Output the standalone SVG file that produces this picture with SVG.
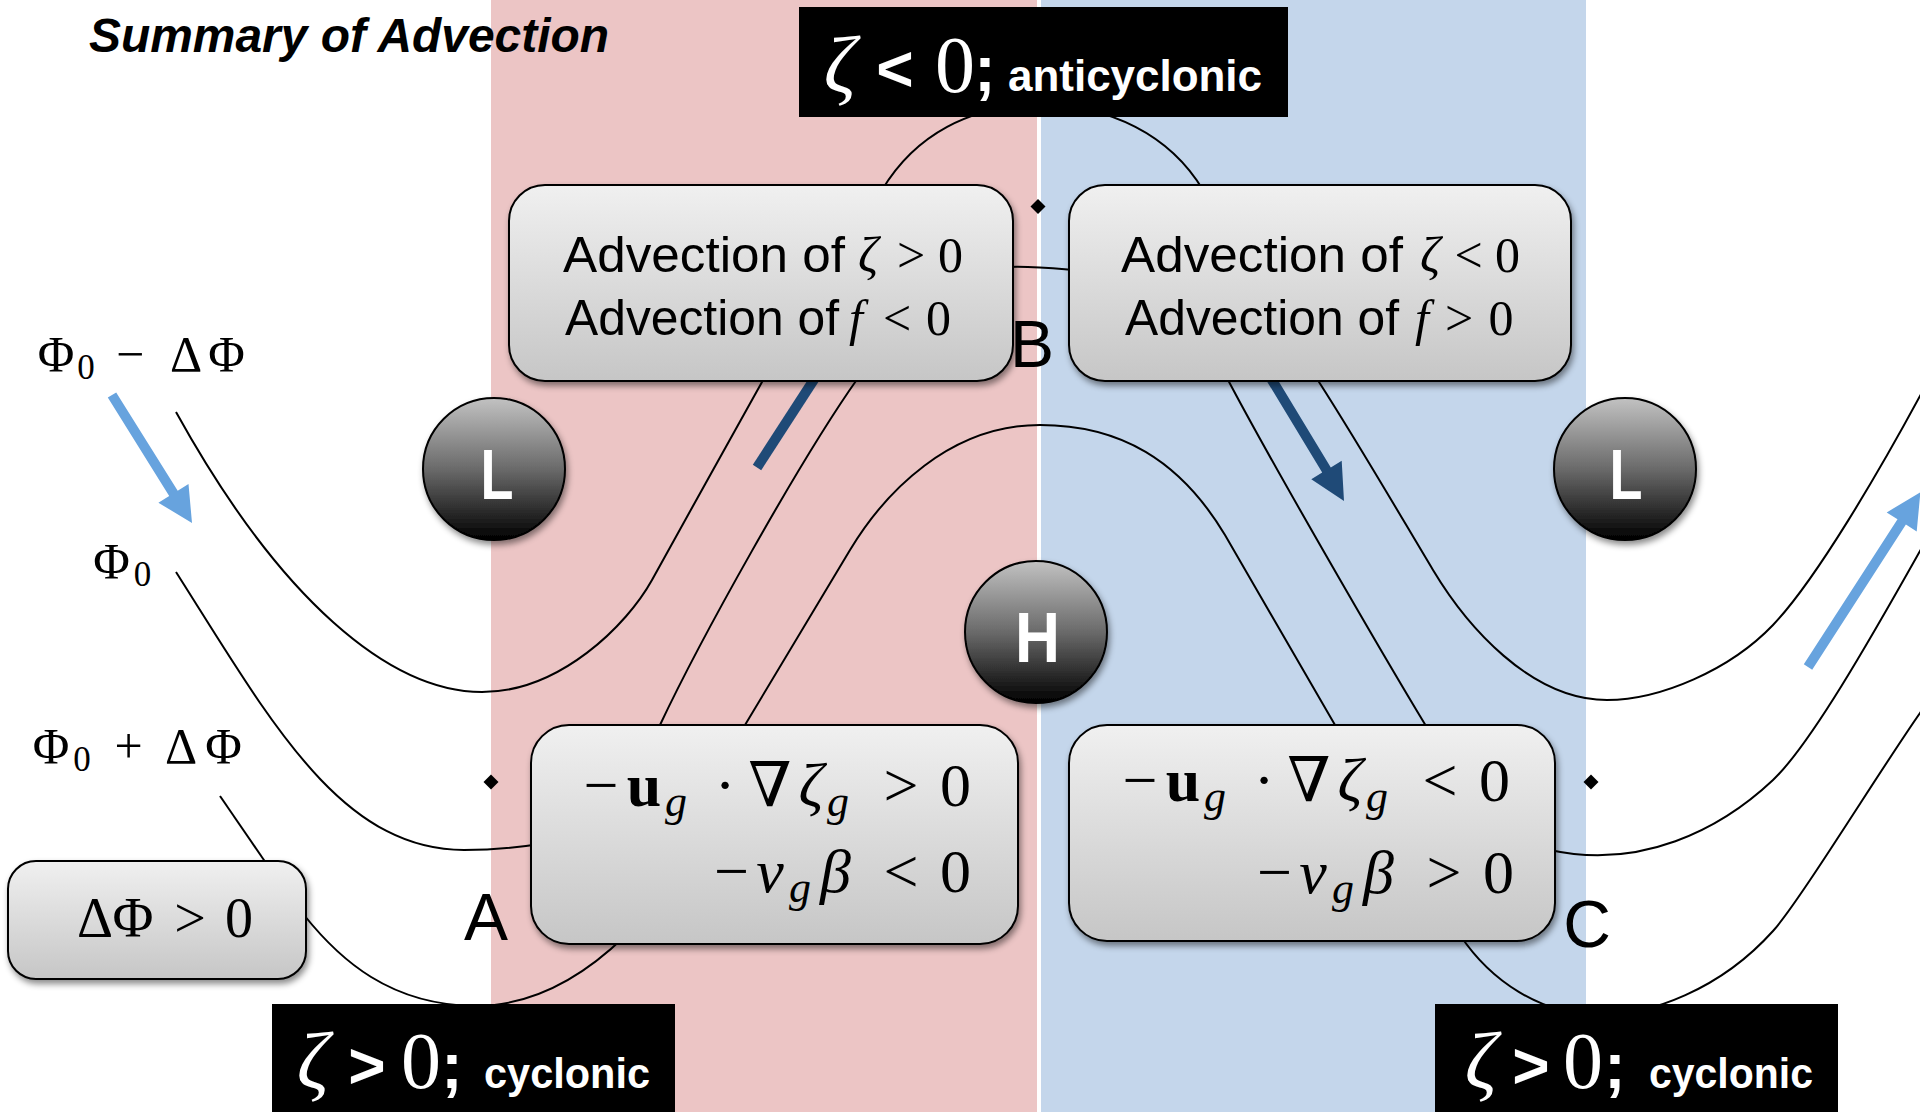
<svg xmlns="http://www.w3.org/2000/svg" width="1920" height="1112" viewBox="0 0 1920 1112">
<defs>
  <linearGradient id="boxGrad" x1="0" y1="0" x2="0" y2="1">
    <stop offset="0" stop-color="#f0f0f0"/>
    <stop offset="1" stop-color="#c6c6c6"/>
  </linearGradient>
  <linearGradient id="ballGrad" x1="0" y1="0" x2="0" y2="1">
    <stop offset="0" stop-color="#c2c2c2"/>
    <stop offset="0.5" stop-color="#6a6a6a"/>
    <stop offset="1" stop-color="#000000"/>
  </linearGradient>
  <filter id="shadow" x="-10%" y="-10%" width="130%" height="140%">
    <feDropShadow dx="2" dy="4" stdDeviation="3" flood-color="#000" flood-opacity="0.45"/>
  </filter>
</defs>
<style>
  .box{fill:url(#boxGrad);stroke:#000;stroke-width:2;filter:url(#shadow)}
  .ball{fill:url(#ballGrad);stroke:#000;stroke-width:2;filter:url(#shadow)}
  .contour{fill:none;stroke:#000;stroke-width:2}
  .sans{font-family:"Liberation Sans",Arial,sans-serif}
  .bsans{font-family:"Liberation Sans",Arial,sans-serif;font-weight:bold}
  .m{font-family:"Liberation Serif","DejaVu Serif",serif;text-anchor:middle}
  .i{font-style:italic}
  .b{font-weight:bold}
  .c{text-anchor:middle}
  .wt{fill:#fff}
  .dot{fill:#000}
  .lt{fill:#67a3de}
  .dk{fill:#1f4a77}
</style>

<rect x="491" y="0" width="546" height="1112" fill="#ecc5c5"/>
<rect x="1041" y="0" width="545" height="1112" fill="#c4d6eb"/>

<text class="bsans i" x="89" y="52" font-size="48" font-style="italic" textLength="520" lengthAdjust="spacingAndGlyphs">Summary of Advection</text>

<g id="connectors">
  <path class="contour" d="M176,412 C280,600 390,692 482,692 C560,692 627,625 652,580 C677,535 741,419 762,382 L770,368"/>
  <path class="contour" d="M882,190 C915,135 970,105 1040,105 C1110,105 1170,135 1203,190"/>
  <path class="contour" d="M1315,375 L1319,382 C1360,446 1400,515 1433,570 C1466,625 1530,700 1607,700 C1660,700 1730,670 1773,625 C1816,580 1880,470 1920,396 L1930,378"/>
  <path class="contour" d="M176,572 C270,720 340,850 464,850 C495,850 515,848 540,844"/>
  <path class="contour" d="M655,736 L660,725 C700,640 800,460 858,378"/>
  <path class="contour" d="M1008,267 C1030,266 1050,268 1073,270"/>
  <path class="contour" d="M1227,378 C1270,460 1380,650 1426,726 L1430,734"/>
  <path class="contour" d="M1550,850 C1640,870 1720,830 1773,780 C1810,745 1870,640 1920,551 L1930,534"/>
  <path class="contour" d="M220,796 L268,866"/>
  <path class="contour" d="M300,910 L304,915 C340,960 390,1005 475,1006 C540,1006 590,970 625,936"/>
  <path class="contour" d="M740,733 L745,725 L850,550 C885,492 950,425 1040,425 C1120,425 1180,460 1225,535 L1335,725 L1340,733"/>
  <path class="contour" d="M1455,928 L1460,935 C1490,980 1540,1015 1600,1015 C1650,1015 1720,990 1773,931 C1800,901 1880,770 1920,713 L1930,699"/>
  <polygon class="lt" points="116.2,392.4 177.7,490.7 188.5,483.9 192,523 158.4,502.7 169.2,496 107.8,397.6"/>
  <polygon class="lt" points="1803.8,664.3 1897.5,519.2 1886.7,512.4 1920.4,492.3 1916.7,531.4 1905.9,524.6 1812.2,669.7"/>
  <line x1="757" y1="467.5" x2="826" y2="361" stroke="#1f4a77" stroke-width="10"/>
  <polygon class="dk" points="1259,368.2 1322.2,472.6 1311.3,479.2 1344,501 1341.7,460.8 1330.8,467.4 1267.6,363"/>
</g>

<g id="box-adv-left">
  <rect class="box" x="509" y="185" width="504" height="196" rx="36"/>
  <text class="sans" x="563" y="272" font-size="50" textLength="282" lengthAdjust="spacingAndGlyphs">Advection of</text>
  <text class="m i" x="868" y="272" font-size="50">ζ</text>
  <text class="m" x="911" y="272" font-size="50">&gt;</text>
  <text class="m" x="950.5" y="272" font-size="50">0</text>
  <text class="sans" x="565" y="335" font-size="50" textLength="274" lengthAdjust="spacingAndGlyphs">Advection of</text>
  <text class="m i" x="856" y="335" font-size="50">f</text>
  <text class="m" x="897" y="335" font-size="50">&lt;</text>
  <text class="m" x="938.5" y="335" font-size="50">0</text>
</g>

<g id="box-adv-right">
  <rect class="box" x="1069" y="185" width="502" height="196" rx="36"/>
  <text class="sans" x="1121" y="272" font-size="50" textLength="282" lengthAdjust="spacingAndGlyphs">Advection of</text>
  <text class="m i" x="1430" y="272" font-size="50">ζ</text>
  <text class="m" x="1468.5" y="272" font-size="50">&lt;</text>
  <text class="m" x="1507.5" y="272" font-size="50">0</text>
  <text class="sans" x="1125" y="335" font-size="50" textLength="274" lengthAdjust="spacingAndGlyphs">Advection of</text>
  <text class="m i" x="1422" y="335" font-size="50">f</text>
  <text class="m" x="1459" y="335" font-size="50">&gt;</text>
  <text class="m" x="1501" y="335" font-size="50">0</text>
</g>

<g id="box-math-left">
  <rect class="box" x="531" y="725" width="487" height="219" rx="38"/>
  <text class="m" x="601" y="806" font-size="62">−</text>
  <text class="m b" x="644" y="806" font-size="62">u</text>
  <text class="m i" x="676" y="816" font-size="44">g</text>
  <text class="m" x="725" y="806" font-size="62">·</text>
  <text class="m" x="770" y="806" font-size="62">∇</text>
  <text class="m i" x="811" y="806" font-size="62">ζ</text>
  <text class="m i" x="838" y="816" font-size="44">g</text>
  <text class="m" x="901" y="806" font-size="62">&gt;</text>
  <text class="m" x="955.5" y="806" font-size="62">0</text>
  <text class="m" x="731.5" y="892" font-size="62">−</text>
  <text class="m i" x="770" y="892" font-size="62">v</text>
  <text class="m i" x="800" y="902" font-size="44">g</text>
  <text class="m i" x="835.5" y="892" font-size="62">β</text>
  <text class="m" x="901" y="892" font-size="62">&lt;</text>
  <text class="m" x="955.5" y="892" font-size="62">0</text>
</g>

<g id="box-math-right">
  <rect class="box" x="1069" y="725" width="486" height="216" rx="38"/>
  <text class="m" x="1140" y="801" font-size="62">−</text>
  <text class="m b" x="1183" y="801" font-size="62">u</text>
  <text class="m i" x="1215" y="811" font-size="44">g</text>
  <text class="m" x="1264" y="801" font-size="62">·</text>
  <text class="m" x="1309" y="801" font-size="62">∇</text>
  <text class="m i" x="1350" y="801" font-size="62">ζ</text>
  <text class="m i" x="1377" y="811" font-size="44">g</text>
  <text class="m" x="1440" y="801" font-size="62">&lt;</text>
  <text class="m" x="1494.5" y="801" font-size="62">0</text>
  <text class="m" x="1274.5" y="893" font-size="62">−</text>
  <text class="m i" x="1313" y="893" font-size="62">v</text>
  <text class="m i" x="1343" y="903" font-size="44">g</text>
  <text class="m i" x="1378.5" y="893" font-size="62">β</text>
  <text class="m" x="1444" y="893" font-size="62">&gt;</text>
  <text class="m" x="1498.5" y="893" font-size="62">0</text>
</g>

<g id="box-dphi">
  <rect class="box" x="8" y="861" width="298" height="118" rx="28"/>
  <text class="m" x="95" y="937" font-size="56">Δ</text>
  <text class="m" x="133" y="937" font-size="56">Φ</text>
  <text class="m" x="190" y="937" font-size="56">&gt;</text>
  <text class="m" x="239" y="937" font-size="56">0</text>
</g>

<g id="low-left">
  <circle class="ball" cx="494" cy="469" r="71"/>
  <text class="bsans c wt" x="497" y="499" font-size="70" textLength="33" lengthAdjust="spacingAndGlyphs">L</text>
</g>
<g id="low-right">
  <circle class="ball" cx="1625" cy="469" r="71"/>
  <text class="bsans c wt" x="1626" y="499" font-size="70" textLength="33" lengthAdjust="spacingAndGlyphs">L</text>
</g>
<g id="high">
  <circle class="ball" cx="1036" cy="632" r="71"/>
  <text class="bsans c wt" x="1037.5" y="662" font-size="70" textLength="45" lengthAdjust="spacingAndGlyphs">H</text>
</g>

<g id="dots">
  <polygon class="dot" points="1038,199 1045.5,206.5 1038,214 1030.5,206.5"/>
  <polygon class="dot" points="491,774.5 498.5,782 491,789.5 483.5,782"/>
  <polygon class="dot" points="1591,774.5 1598.5,782 1591,789.5 1583.5,782"/>
</g>

<g id="point-labels">
  <text class="sans c" x="486" y="940" font-size="66">A</text>
  <text class="sans c" x="1032" y="367" font-size="66">B</text>
  <text class="sans c" x="1587" y="947" font-size="66">C</text>
</g>

<g id="phi-labels">
  <text class="m" x="56" y="371" font-size="50">Φ</text>
  <text class="m" x="86" y="379" font-size="35">0</text>
  <text class="m" x="130" y="371" font-size="50">−</text>
  <text class="m" x="186" y="371" font-size="50">Δ</text>
  <text class="m" x="226.5" y="371" font-size="50">Φ</text>
  <text class="m" x="111.5" y="578" font-size="50">Φ</text>
  <text class="m" x="142.5" y="586" font-size="35">0</text>
  <text class="m" x="51" y="763" font-size="50">Φ</text>
  <text class="m" x="82" y="771" font-size="35">0</text>
  <text class="m" x="128.5" y="763" font-size="50">+</text>
  <text class="m" x="181" y="763" font-size="50">Δ</text>
  <text class="m" x="223.5" y="763" font-size="50">Φ</text>
</g>

<g id="label-anticyclonic">
  <rect x="799" y="7" width="489" height="110" fill="#000"/>
  <text class="m i wt" x="840" y="92" font-size="80">ζ</text>
  <text class="bsans c wt" x="895" y="91" font-size="64">&lt;</text>
  <text class="m wt" x="955" y="92" font-size="80">0</text>
  <text class="bsans c wt" x="985" y="91" font-size="64">;</text>
  <text class="bsans wt" x="1008" y="91" font-size="44" textLength="254" lengthAdjust="spacingAndGlyphs">anticyclonic</text>
</g>

<g id="label-cyclonic-left">
  <rect x="272" y="1004" width="403" height="108" fill="#000"/>
  <text class="m i wt" x="313" y="1088" font-size="80">ζ</text>
  <text class="bsans c wt" x="367" y="1088" font-size="64">&gt;</text>
  <text class="m wt" x="421" y="1088" font-size="80">0</text>
  <text class="bsans c wt" x="452" y="1088" font-size="64">;</text>
  <text class="bsans wt" x="484" y="1088" font-size="42" textLength="166" lengthAdjust="spacingAndGlyphs">cyclonic</text>
</g>

<g id="label-cyclonic-right">
  <rect x="1435" y="1004" width="403" height="108" fill="#000"/>
  <text class="m i wt" x="1481" y="1088" font-size="80">ζ</text>
  <text class="bsans c wt" x="1531" y="1088" font-size="64">&gt;</text>
  <text class="m wt" x="1583" y="1088" font-size="80">0</text>
  <text class="bsans c wt" x="1615" y="1088" font-size="64">;</text>
  <text class="bsans wt" x="1649" y="1088" font-size="42" textLength="164" lengthAdjust="spacingAndGlyphs">cyclonic</text>
</g>
</svg>
